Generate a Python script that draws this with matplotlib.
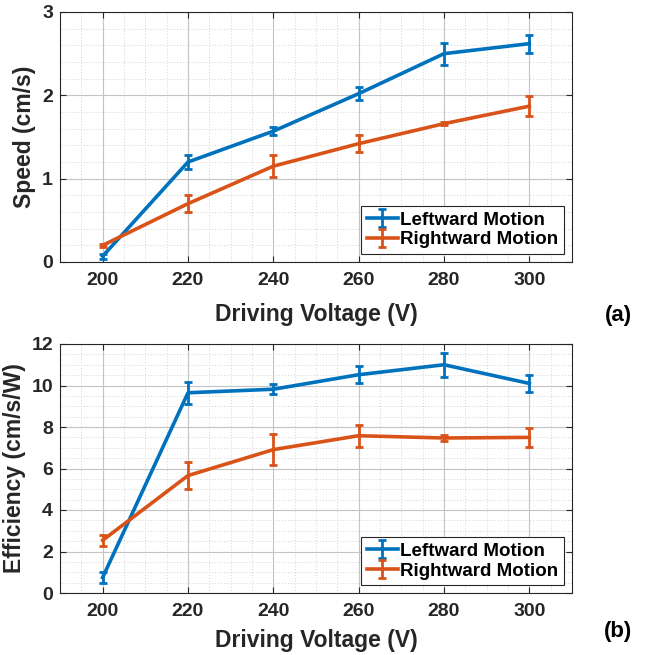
import matplotlib
matplotlib.use("Agg")
import matplotlib.pyplot as plt
from matplotlib.ticker import MultipleLocator
import numpy as np

plt.rcParams['font.family'] = ['Liberation Sans', 'DejaVu Sans']
plt.rcParams['font.weight'] = 'bold'

voltage = [200, 220, 240, 260, 280, 300]
speed_left = [0.07, 1.20, 1.57, 2.02, 2.50, 2.62]
speed_left_err = [0.03, 0.08, 0.05, 0.08, 0.13, 0.11]
speed_right = [0.20, 0.70, 1.15, 1.42, 1.66, 1.87]
speed_right_err = [0.02, 0.10, 0.13, 0.10, 0.02, 0.12]

eff_left = [0.75, 9.65, 9.82, 10.52, 11.0, 10.1]
eff_left_err = [0.27, 0.52, 0.24, 0.42, 0.58, 0.42]
eff_right = [2.54, 5.66, 6.91, 7.58, 7.47, 7.50]
eff_right_err = [0.26, 0.66, 0.74, 0.53, 0.15, 0.46]

series_labels = ['Leftward Motion', 'Rightward Motion']
colors = ['#0072BD', '#D95319']
txt = '#262626'

W, H = 647, 655
fig = plt.figure(figsize=(W/100, H/100), dpi=100)

AX_L, AX_W = 60, 512

def make_ax(top_px, bot_px):
    return fig.add_axes([AX_L/W, 1 - bot_px/H, AX_W/W, (bot_px - top_px)/H])

ax1 = make_ax(12, 262)
ax2 = make_ax(344, 593)

def style(ax, ylim, major, minor, ylabel, ylab_x, height_px, xlab_off):
    ax.set_xlim(190, 310)
    ax.set_ylim(*ylim)
    ax.xaxis.set_major_locator(MultipleLocator(20))
    ax.xaxis.set_minor_locator(MultipleLocator(5))
    ax.yaxis.set_major_locator(MultipleLocator(major))
    ax.yaxis.set_minor_locator(MultipleLocator(minor))
    ax.grid(True, which='major', color='#c4c4c4', lw=0.8)
    ax.grid(True, which='minor', color='#d4d4d4', lw=0.7, ls=(0, (1, 2)))
    ax.set_axisbelow(True)
    ax.tick_params(which='both', direction='in', top=True, right=True,
                   labelsize=14, colors=txt, labelcolor=txt)
    ax.tick_params(which='major', length=4, width=0.8)
    ax.tick_params(which='minor', length=0)
    ax.tick_params(axis='x', which='major', pad=7.5)
    ax.tick_params(axis='y', which='major', pad=5)
    for s in ax.spines.values():
        s.set_color('#262626')
        s.set_linewidth(0.8)
    for lab in ax.get_xticklabels() + ax.get_yticklabels():
        lab.set_fontweight('bold')
    ax.set_xlabel('Driving Voltage (V)', fontsize=16.5, fontweight='bold', color=txt)
    ax.set_ylabel(ylabel, fontsize=16.5, fontweight='bold', color=txt)
    ax.xaxis.label.set_va('center')
    ax.yaxis.label.set_va('center')
    ax.xaxis.set_label_coords(0.5, -xlab_off/height_px)
    ax.yaxis.set_label_coords((ylab_x - AX_L)/AX_W, 0.5)

def plot(ax, ys, errs):
    for y, e, c, lab in zip(ys, errs, colors, series_labels):
        ax.errorbar(voltage, y, yerr=e, color=c, lw=2.6, elinewidth=2.0,
                    capsize=3, capthick=2.0, label=lab)
    leg = ax.legend(loc='lower right', frameon=True, fancybox=False,
                    borderaxespad=0.42, handlelength=1.65, handletextpad=0.15,
                    borderpad=0.3, labelspacing=0.15,
                    prop={'weight': 'bold', 'size': 13.5})
    leg.get_frame().set_edgecolor('#262626')
    leg.get_frame().set_linewidth(0.8)
    leg.get_frame().set_alpha(1)
    for t in leg.get_texts():
        t.set_color('black')

style(ax1, (0, 3), 1, 0.2, 'Speed (cm/s)', 25, 250, 53)
plot(ax1, [speed_left, speed_right], [speed_left_err, speed_right_err])
style(ax2, (0, 12), 2, 0.5, 'Efficiency (cm/s/W)', 15, 249, 47)
plot(ax2, [eff_left, eff_right], [eff_left_err, eff_right_err])

fig.text(618/W, 1 - 316/H, '(a)', fontsize=16, fontweight='bold', ha='center', va='center', color='black')
fig.text(618/W, 1 - 632/H, '(b)', fontsize=16, fontweight='bold', ha='center', va='center', color='black')

fig.savefig('out.png', dpi=100, facecolor='white')
